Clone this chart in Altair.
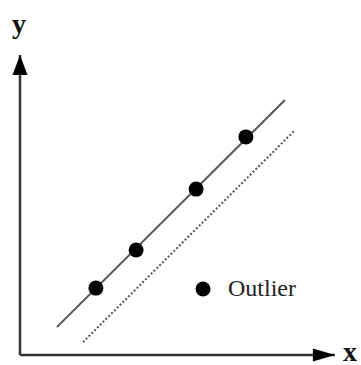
import altair as alt
import pandas as pd

# Regression points lying on the fitted line
pts_x = [2.53, 3.87, 5.87, 7.53]
pts_y = [2.23, 3.50, 5.53, 7.27]

# The outlier and its label
outlier_x = [6.1]
outlier_y = [2.2]
outlier_label = ["Outlier"]

# Fitted line (solid) and lower bound line (dotted), as end points
fit_x = [1.23, 8.83]
fit_y = [0.93, 8.50]
bound_x = [2.10, 9.17]
bound_y = [0.43, 7.50]

# Axes: lines from the origin, arrow heads and axis names
axis_x0 = [0.0, 0.0]
axis_y0 = [0.0, 0.0]
axis_x1 = [10.5, 0.0]
axis_y1 = [0.0, 10.0]
head_x = [10.13, 0.0]
head_y = [0.0, 9.67]
head_shape = ["M1,0L-1,-0.6L-1,0.6Z", "M0,-1L0.75,1L-0.75,1Z"]
name_x = [11.0, -0.03]
name_y = [-0.2, 10.73]
name_text = ["x", "y"]

W, H = 361, 365
xs = alt.Scale(domain=[0, 10], range=[20, 320])
ys = alt.Scale(domain=[0, 10], range=[355, 55])
X = lambda f: alt.X(f, type="quantitative", scale=xs, axis=None)
Y = lambda f: alt.Y(f, type="quantitative", scale=ys, axis=None)

pts = pd.DataFrame({"x": pts_x, "y": pts_y})
out = pd.DataFrame({"x": outlier_x, "y": outlier_y, "t": outlier_label})
fit = pd.DataFrame({"x": fit_x, "y": fit_y})
bound = pd.DataFrame({"x": bound_x, "y": bound_y})
axes = pd.DataFrame({"x": axis_x0, "y": axis_y0, "x2": axis_x1, "y2": axis_y1})
heads = pd.DataFrame({"x": head_x, "y": head_y, "s": head_shape})
names = pd.DataFrame({"x": name_x, "y": name_y, "t": name_text})

axis_lines = alt.Chart(axes).mark_rule(color="#333333", strokeWidth=2.5).encode(
    x=X("x"), y=Y("y"), x2="x2", y2="y2"
)
arrow_x = alt.Chart(heads.iloc[[0]]).mark_point(
    shape=head_shape[0], size=484, filled=True, color="#000000", opacity=1
).encode(x=X("x"), y=Y("y"))
arrow_y = alt.Chart(heads.iloc[[1]]).mark_point(
    shape=head_shape[1], size=400, filled=True, color="#000000", opacity=1
).encode(x=X("x"), y=Y("y"))
axis_names = alt.Chart(names).mark_text(
    font="Liberation Serif", fontSize=28, fontWeight="bold", color="#111111",
    align="center", baseline="alphabetic"
).encode(x=X("x"), y=Y("y"), text="t")

fit_line = alt.Chart(fit).mark_line(color="#555555", strokeWidth=2).encode(
    x=X("x"), y=Y("y")
)
bound_line = alt.Chart(bound).mark_line(
    color="#555555", strokeWidth=2, strokeDash=[2, 2]
).encode(x=X("x"), y=Y("y"))

points = alt.Chart(pts).mark_circle(size=225, color="#000000", opacity=1).encode(
    x=X("x"), y=Y("y")
)
outlier_pt = alt.Chart(out).mark_circle(size=225, color="#000000", opacity=1).encode(
    x=X("x"), y=Y("y")
)
outlier_text = alt.Chart(out).mark_text(
    font="Liberation Serif", fontSize=24, color="#222222",
    align="left", baseline="middle", dx=25
).encode(x=X("x"), y=Y("y"), text="t")

chart = alt.layer(
    axis_lines, arrow_x, arrow_y, axis_names,
    fit_line, bound_line, points, outlier_pt, outlier_text
).properties(
    width=W, height=H, padding=0, autosize=alt.AutoSizeParams(type="none"),
    background="white"
).configure_view(stroke=None)

chart.save("out.html", embed_options={"renderer": "svg", "actions": False})
